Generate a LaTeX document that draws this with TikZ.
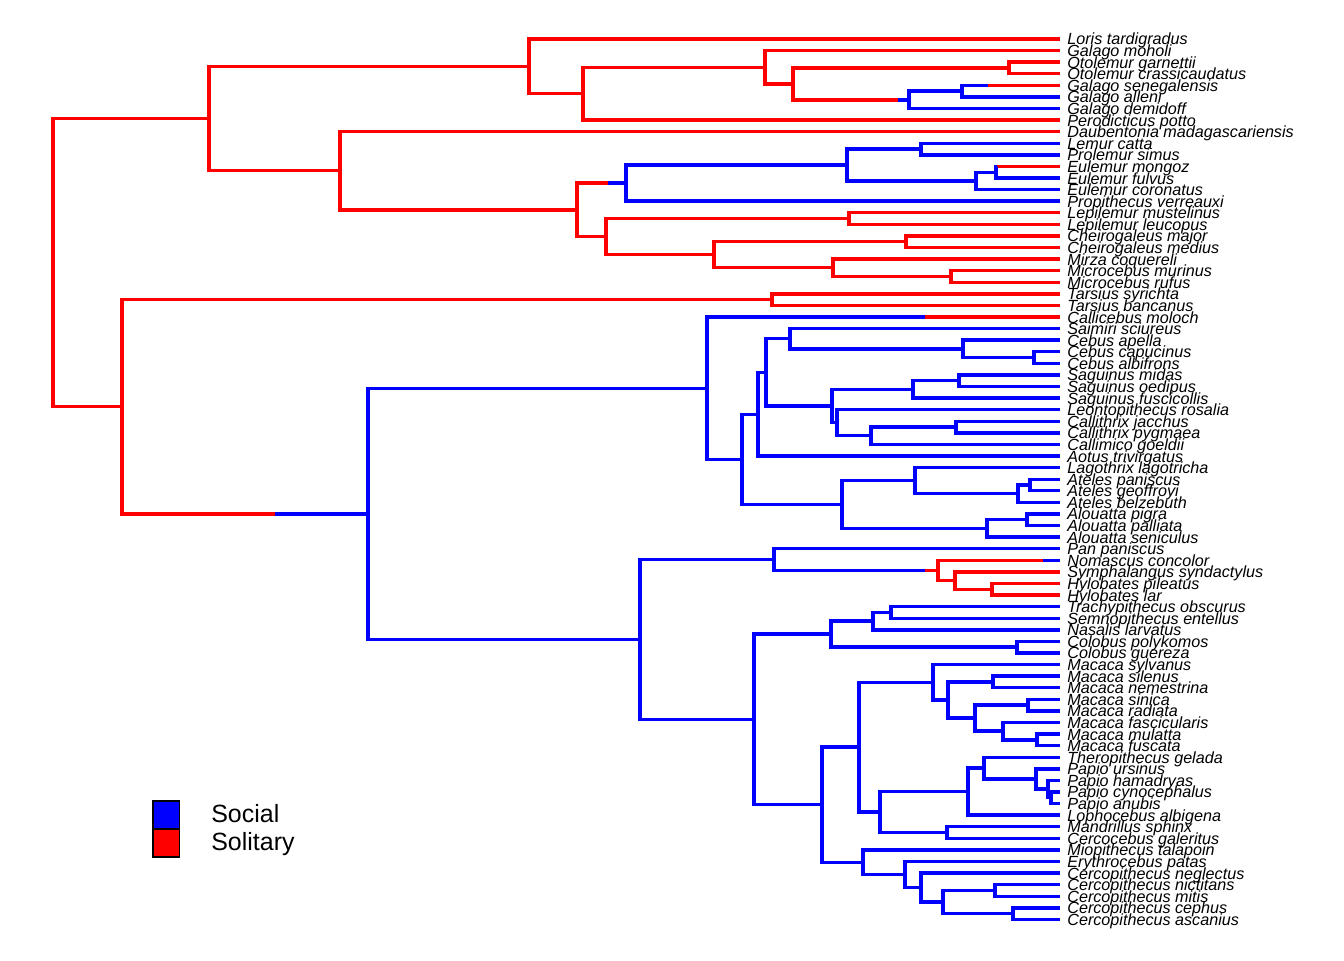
\documentclass[tikz,border=0pt]{standalone}
\usepackage{fontspec}
\setmainfont{Liberation Sans}
\definecolor{socblue}{RGB}{0,0,255}
\definecolor{solred}{RGB}{255,0,0}
\begin{document}
\begin{tikzpicture}[x=0.02cm,y=-0.02cm,
  br/.style={line width=0.068cm, line join=miter},
  soc/.style={br, draw=socblue},
  sol/.style={br, draw=solred},
  lab/.style={anchor=base west, inner sep=0pt, font=\fontsize{9.2pt}{10pt}\selectfont\itshape, yshift=-0.12cm},
  leg/.style={anchor=base west, inner sep=0pt, font=\fontsize{14.2pt}{16pt}\selectfont},
  swatch/.style={draw=black, line width=0.03cm, inner sep=0pt, anchor=north west, minimum width=0.54cm, minimum height=0.56cm}]
\useasboundingbox (0,0) rectangle (1344,960);
\begin{scope}[y=-0.231734cm, yshift=-0.78cm]
% tips
\foreach \nm [count=\i from 0] in {Loris tardigradus, Galago moholi, Otolemur garnettii, Otolemur crassicaudatus, Galago senegalensis, Galago alleni, Galago demidoff, Perodicticus potto, Daubentonia madagascariensis, Lemur catta, Prolemur simus, Eulemur mongoz, Eulemur fulvus, Eulemur coronatus, Propithecus verreauxi, Lepilemur mustelinus, Lepilemur leucopus, Cheirogaleus major, Cheirogaleus medius, Mirza coquereli, Microcebus murinus, Microcebus rufus, Tarsius syrichta, Tarsius bancanus, Callicebus moloch, Saimiri sciureus, Cebus apella, Cebus capucinus, Cebus albifrons, Saguinus midas, Saguinus oedipus, Saguinus fuscicollis, Leontopithecus rosalia, Callithrix jacchus, Callithrix pygmaea, Callimico goeldii, Aotus trivirgatus, Lagothrix lagotricha, Ateles paniscus, Ateles geoffroyi, Ateles belzebuth, Alouatta pigra, Alouatta palliata, Alouatta seniculus, Pan paniscus, Nomascus concolor, Symphalangus syndactylus, Hylobates pileatus, Hylobates lar, Trachypithecus obscurus, Semnopithecus entellus, Nasalis larvatus, Colobus polykomos, Colobus guereza, Macaca sylvanus, Macaca silenus, Macaca nemestrina, Macaca sinica, Macaca radiata, Macaca fascicularis, Macaca mulatta, Macaca fuscata, Theropithecus gelada, Papio ursinus, Papio hamadryas, Papio cynocephalus, Papio anubis, Lophocebus albigena, Mandrillus sphinx, Cercocebus galeritus, Miopithecus talapoin, Erythrocebus patas, Cercopithecus neglectus, Cercopithecus nictitans, Cercopithecus mitis, Cercopithecus cephus, Cercopithecus ascanius}{
  \coordinate (t\i) at (1060,\i);
  \node[lab] (l\i) at (1067,\i) {\nm};
}
% internal nodes
\coordinate (root) at (53,19.3063);
\coordinate (n209) at (209,6.8672);
\coordinate (n529) at (529,2.3594);
\coordinate (n583) at (583,4.7188);
\coordinate (n766) at (765,2.4375);
\coordinate (n794) at (793,3.875);
\coordinate (nOto) at (1009,2.5);
\coordinate (nGal) at (909,5.25);
\coordinate (nGsa) at (962,4.5);
\coordinate (n340) at (340,11.375);
\coordinate (n577) at (577,14.75);
\coordinate (n626) at (626,12.4375);
\coordinate (n847) at (847,10.875);
\coordinate (nLem) at (921,9.5);
\coordinate (nEul) at (976,12.25);
\coordinate (nEmf) at (996,11.5);
\coordinate (n606) at (606,17.0625);
\coordinate (nLep) at (849,15.5);
\coordinate (n714) at (714,18.625);
\coordinate (nChe) at (906,17.5);
\coordinate (n834) at (833,19.75);
\coordinate (nMic) at (951,20.5);
\coordinate (n122) at (122,31.7454);
\coordinate (nTar) at (772,22.5);
\coordinate (n368) at (368,40.9907);
\coordinate (n707) at (707,30.1445);
\coordinate (n742) at (742,36.2891);
\coordinate (n758) at (758,32.3906);
\coordinate (n766b) at (766,28.7813);
\coordinate (n790) at (790,25.875);
\coordinate (nCeb) at (963,26.75);
\coordinate (nCebc) at (1034,27.5);
\coordinate (n832) at (832,31.6875);
\coordinate (nSag) at (913,30.25);
\coordinate (nSag2) at (959,29.5);
\coordinate (n837) at (837,33.125);
\coordinate (n871) at (871,34.25);
\coordinate (nCal) at (956,33.5);
\coordinate (n842) at (842,40.1875);
\coordinate (n916) at (915,38.125);
\coordinate (nAtl) at (1018,39.25);
\coordinate (nAtl2) at (1030,38.5);
\coordinate (nAlo) at (987,42.25);
\coordinate (nAlo2) at (1027,41.5);
\coordinate (n640) at (640,51.8369);
\coordinate (n775) at (774,44.9375);
\coordinate (n938) at (938,45.875);
\coordinate (n955) at (955,46.75);
\coordinate (nHyl) at (992,47.5);
\coordinate (n753) at (754,58.7363);
\coordinate (n831) at (831,51.375);
\coordinate (n873) at (873,50.25);
\coordinate (nTS) at (891,49.5);
\coordinate (nCol) at (1017,52.5);
\coordinate (n822) at (822,66.0977);
\coordinate (n859) at (859,61.1328);
\coordinate (n933) at (933,55.5313);
\coordinate (n948) at (948,57.0625);
\coordinate (nMsn) at (993,55.5);
\coordinate (n975) at (975,58.625);
\coordinate (nMsr) at (1028,57.5);
\coordinate (n1003) at (1003,59.75);
\coordinate (nMmf) at (1037,60.5);
\coordinate (n880) at (880,66.7344);
\coordinate (n968) at (968,64.9688);
\coordinate (n983) at (984,62.9375);
\coordinate (nPu) at (1036,63.875);
\coordinate (nPh) at (1048,64.75);
\coordinate (nPca) at (1051,65.5);
\coordinate (nMC) at (947,68.5);
\coordinate (n863) at (863,71.0625);
\coordinate (n905) at (905,72.125);
\coordinate (n921) at (921,73.25);
\coordinate (n943) at (943,74.5);
\coordinate (nCe1) at (995,73.5);
\coordinate (nCe2) at (1013,75.5);
% state switch points
\coordinate (s1) at (898,5.25);
\coordinate (s2) at (988,4);
\coordinate (s3) at (608,12.4375);
\coordinate (s4) at (997,11);
\coordinate (s5) at (275,40.9907);
\coordinate (s6) at (925,24);
\coordinate (s7) at (925,45.875);
\coordinate (s8) at (1043,45);
% solitary branches
\draw[sol] (root)|-(n209) (root)|-(n122)
  (n209)|-(n529) (n209)|-(n340)
  (n529)|-(t0) (n529)|-(n583)
  (n583)|-(n766) (n583)|-(t7)
  (n766)|-(t1) (n766)|-(n794)
  (n794)|-(nOto) (n794)|-(s1)
  (nOto)|-(t2) (nOto)|-(t3)
  (s2)--(t4)
  (n340)|-(t8) (n340)|-(n577)
  (n577)|-(s3) (n577)|-(n606)
  (s4)--(t11)
  (n606)|-(nLep) (n606)|-(n714)
  (nLep)|-(t15) (nLep)|-(t16)
  (n714)|-(nChe) (n714)|-(n834)
  (nChe)|-(t17) (nChe)|-(t18)
  (n834)|-(t19) (n834)|-(nMic)
  (nMic)|-(t20) (nMic)|-(t21)
  (n122)|-(nTar) (n122)|-(s5)
  (nTar)|-(t22) (nTar)|-(t23)
  (s6)--(t24)
  (s7)--(n938)
  (n938)|-(s8) (n938)|-(n955)
  (n955)|-(t46) (n955)|-(nHyl)
  (nHyl)|-(t47) (nHyl)|-(t48);
% social branches
\draw[soc] (s1)--(nGal)
  (nGal)|-(nGsa) (nGal)|-(t6)
  (nGsa)|-(s2) (nGsa)|-(t5)
  (s3)--(n626)
  (n626)|-(n847) (n626)|-(t14)
  (n847)|-(nLem) (n847)|-(nEul)
  (nLem)|-(t9) (nLem)|-(t10)
  (nEul)|-(nEmf) (nEul)|-(t13)
  (nEmf)|-(s4) (nEmf)|-(t12)
  (s5)--(n368)
  (n368)|-(n707) (n368)|-(n640)
  (n707)|-(s6) (n707)|-(n742)
  (n742)|-(n758) (n742)|-(n842)
  (n758)|-(n766b) (n758)|-(t36)
  (n766b)|-(n790) (n766b)|-(n832)
  (n790)|-(t25) (n790)|-(nCeb)
  (nCeb)|-(t26) (nCeb)|-(nCebc)
  (nCebc)|-(t27) (nCebc)|-(t28)
  (n832)|-(nSag) (n832)|-(n837)
  (nSag)|-(nSag2) (nSag)|-(t31)
  (nSag2)|-(t29) (nSag2)|-(t30)
  (n837)|-(t32) (n837)|-(n871)
  (n871)|-(nCal) (n871)|-(t35)
  (nCal)|-(t33) (nCal)|-(t34)
  (n842)|-(n916) (n842)|-(nAlo)
  (n916)|-(t37) (n916)|-(nAtl)
  (nAtl)|-(nAtl2) (nAtl)|-(t40)
  (nAtl2)|-(t38) (nAtl2)|-(t39)
  (nAlo)|-(nAlo2) (nAlo)|-(t43)
  (nAlo2)|-(t41) (nAlo2)|-(t42)
  (n640)|-(n775) (n640)|-(n753)
  (n775)|-(t44) (n775)|-(s7)
  (s8)--(t45)
  (n753)|-(n831) (n753)|-(n822)
  (n831)|-(n873) (n831)|-(nCol)
  (n873)|-(nTS) (n873)|-(t51)
  (nTS)|-(t49) (nTS)|-(t50)
  (nCol)|-(t52) (nCol)|-(t53)
  (n822)|-(n859) (n822)|-(n863)
  (n859)|-(n933) (n859)|-(n880)
  (n933)|-(t54) (n933)|-(n948)
  (n948)|-(nMsn) (n948)|-(n975)
  (nMsn)|-(t55) (nMsn)|-(t56)
  (n975)|-(nMsr) (n975)|-(n1003)
  (nMsr)|-(t57) (nMsr)|-(t58)
  (n1003)|-(t59) (n1003)|-(nMmf)
  (nMmf)|-(t60) (nMmf)|-(t61)
  (n880)|-(n968) (n880)|-(nMC)
  (n968)|-(n983) (n968)|-(t67)
  (n983)|-(t62) (n983)|-(nPu)
  (nPu)|-(t63) (nPu)|-(nPh)
  (nPh)|-(t64) (nPh)|-(nPca)
  (nPca)|-(t65) (nPca)|-(t66)
  (nMC)|-(t68) (nMC)|-(t69)
  (n863)|-(t70) (n863)|-(n905)
  (n905)|-(t71) (n905)|-(n921)
  (n921)|-(t72) (n921)|-(n943)
  (n943)|-(nCe1) (n943)|-(nCe2)
  (nCe1)|-(t73) (nCe1)|-(t74)
  (nCe2)|-(t75) (nCe2)|-(t76);
\end{scope}
% legend
\node[swatch, fill=socblue] (kSoc) at (152,800) {};
\node[swatch, fill=solred] (kSol) at (152,828) {};
\node[leg] (tSoc) at (211,822.7) {Social};
\node[leg] (tSol) at (211,850.7) {Solitary};
\end{tikzpicture}
\end{document}
